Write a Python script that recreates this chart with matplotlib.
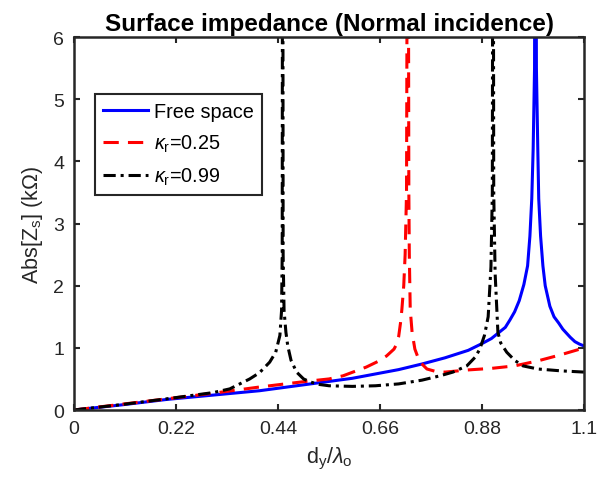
import matplotlib
matplotlib.use('Agg')
import matplotlib.pyplot as plt

# values
x_free = [0, 0.1, 0.2, 0.3, 0.4, 0.5, 0.6, 0.65, 0.7, 0.75, 0.8, 0.85, 0.88, 0.9, 0.93, 0.94,
          0.95, 0.96, 0.97, 0.978, 0.983, 0.987, 0.99, 0.993, 0.995, 0.997, 1.0, 1.002, 1.006,
          1.011, 1.016, 1.026, 1.035, 1.045, 1.054, 1.07, 1.08, 1.09, 1.1]
z_free = [0, 0.08, 0.17, 0.24, 0.31, 0.41, 0.51, 0.58, 0.65, 0.74, 0.84, 0.96, 1.07, 1.15, 1.33, 1.45,
          1.58, 1.76, 2.02, 2.32, 2.8, 3.4, 4.2, 5.5, 12, 5.5, 4.2, 3.4, 2.8,
          2.32, 2.0, 1.67, 1.5, 1.4, 1.30, 1.17, 1.1, 1.06, 1.03]

x_k25 = [0, 0.1, 0.2, 0.3, 0.4, 0.5, 0.55, 0.58, 0.63, 0.655, 0.674, 0.69, 0.695, 0.7, 0.704,
         0.707, 0.711, 0.714, 0.717, 0.72, 0.722, 0.723, 0.725, 0.729, 0.735, 0.745, 0.761,
         0.78, 0.8, 0.85, 0.9, 0.95, 1.0, 1.05, 1.1]
z_k25 = [0, 0.09, 0.18, 0.27, 0.37, 0.46, 0.50, 0.55, 0.69, 0.78, 0.87, 0.98, 1.05, 1.18, 1.4,
         1.62, 2.0, 2.5, 3.5, 12, 3.5, 2.5, 1.62, 1.25, 0.98, 0.78, 0.66,
         0.62, 0.61, 0.645, 0.67, 0.71, 0.79, 0.89, 1.0]

x_k99 = [0, 0.1, 0.2, 0.3, 0.336, 0.379, 0.4, 0.422, 0.435, 0.444, 0.4476, 0.449, 0.45, 0.451,
         0.453, 0.457, 0.461, 0.468, 0.48, 0.495, 0.51, 0.53, 0.55, 0.6, 0.65, 0.7, 0.75,
         0.789, 0.817, 0.847, 0.865, 0.875, 0.885, 0.893, 0.899, 0.902, 0.9035, 0.905, 0.908,
         0.914, 0.92, 0.933, 0.95, 0.968, 1.0, 1.05, 1.1]
z_k99 = [0, 0.085, 0.18, 0.28, 0.34, 0.5, 0.6, 0.77, 0.93, 1.2, 1.6, 2.5, 12, 2.5,
         1.6, 1.25, 1.03, 0.8, 0.61, 0.5, 0.45, 0.41, 0.39, 0.38, 0.39, 0.42, 0.48,
         0.55, 0.61, 0.71, 0.85, 0.98, 1.2, 1.5, 2.3, 3.5, 12, 3.5, 2.2,
         1.25, 1.08, 0.93, 0.8, 0.71, 0.66, 0.63, 0.61]

xticks = [0, 0.22, 0.44, 0.66, 0.88, 1.1]
xticklabels = ['0', '0.22', '0.44', '0.66', '0.88', '1.1']

plt.rcParams['font.family'] = ['Liberation Sans', 'DejaVu Sans']
plt.rcParams['mathtext.fontset'] = 'custom'
plt.rcParams['mathtext.rm'] = 'Liberation Sans'
plt.rcParams['mathtext.it'] = 'Liberation Sans:italic'
plt.rcParams['mathtext.bf'] = 'Liberation Sans:bold'

gray = '#262626'
fig = plt.figure(figsize=(6.06, 4.89), dpi=100)
ax = fig.add_axes([0.122, 0.1595, 0.842, 0.7625])

lw = 2.2
ax.plot(x_free, z_free, color='#0000ff', lw=lw, label='Free space')
ax.plot(x_k25, z_k25, color='#ff0000', lw=lw, dashes=(5, 3), label=r'$\kappa_\mathrm{r}$=0.25')
ax.plot(x_k99, z_k99, color='black', lw=lw, dashes=(4, 1.6, 1, 1.6), label=r'$\kappa_\mathrm{r}$=0.99')

ax.set_xlim(0, 1.1)
ax.set_ylim(0, 6)
ax.set_xticks(xticks)
ax.set_xticklabels(xticklabels)
ax.set_yticks(range(7))
ax.tick_params(direction='in', top=True, right=True, length=4, width=1.5,
               colors=gray, labelsize=14, pad=7)
for s in ax.spines.values():
    s.set_linewidth(1.8)
    s.set_color(gray)

ax.set_title('Surface impedance (Normal incidence)', fontsize=17.5, fontweight='bold', pad=5)
ax.set_xlabel(r'd$_\mathrm{y}$/$\lambda_\mathrm{o}$', fontsize=15.5, color=gray, labelpad=6)
ax.set_ylabel(r'Abs[Z$_\mathrm{s}$] (k$\Omega$)', fontsize=15.5, color=gray, labelpad=6)

leg = ax.legend(loc='upper left', bbox_to_anchor=(0.041, 0.848), fontsize=14.3,
                fancybox=False, framealpha=1, edgecolor=gray, handlelength=2.3,
                borderpad=0.4, labelspacing=0.6, handletextpad=0.3, borderaxespad=0)
leg.get_frame().set_linewidth(1.5)

fig.savefig('out.png', dpi=100)
